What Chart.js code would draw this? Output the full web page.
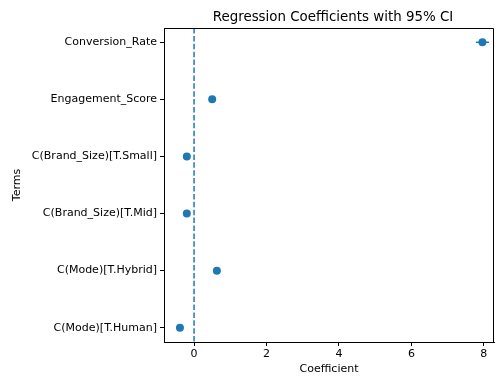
<!DOCTYPE html>
<html>
<head>
<meta charset="utf-8">
<script src="https://cdn.jsdelivr.net/npm/chart.js@4"></script>
<style>
  html, body { margin: 0; padding: 0; background: #fff; }
  #wrap { width: 495px; height: 376px; }
</style>
</head>
<body>
<div id="wrap"><canvas id="coefChart" width="495" height="376"></canvas></div>
<script>
// terms listed bottom to top, as matplotlib plots them
const terms = ['C(Mode)[T.Human]', 'C(Mode)[T.Hybrid]', 'C(Brand_Size)[T.Mid]',
               'C(Brand_Size)[T.Small]', 'Engagement_Score', 'Conversion_Rate'];
const coefs = [-0.39, 0.63, -0.2, -0.2, 0.5, 7.96];
const ciLow = [-0.45, 0.58, -0.25, -0.25, 0.46, 7.78];
const ciHigh = [-0.33, 0.68, -0.15, -0.15, 0.54, 8.14];
const xTicks = [0, 2, 4, 6, 8];

const BLUE = '#1f77b4';
const FONT = 'DejaVu Sans';

const points = coefs.map((c, i) => ({ x: c, y: i }));

// error bars, zero line, top/right spines and title
const extras = {
  id: 'extras',
  beforeDatasetsDraw(chart) {
    const { ctx, chartArea: a, scales: { x, y } } = chart;
    ctx.save();
    // dashed reference line at zero
    ctx.strokeStyle = BLUE;
    ctx.lineWidth = 1.5;
    ctx.setLineDash([5.5, 2.4]);
    ctx.beginPath();
    ctx.moveTo(x.getPixelForValue(0), a.top);
    ctx.lineTo(x.getPixelForValue(0), a.bottom);
    ctx.stroke();
    ctx.setLineDash([]);
    // CI bars
    ctx.lineWidth = 1.5;
    terms.forEach((t, i) => {
      const py = y.getPixelForValue(i);
      ctx.beginPath();
      ctx.moveTo(x.getPixelForValue(ciLow[i]), py);
      ctx.lineTo(x.getPixelForValue(ciHigh[i]), py);
      ctx.stroke();
    });
    ctx.restore();
  },
  afterDraw(chart) {
    const { ctx, chartArea: a } = chart;
    ctx.save();
    ctx.strokeStyle = '#000';
    ctx.lineWidth = 1;
    ctx.beginPath();
    ctx.moveTo(a.left, a.top + 0.5);
    ctx.lineTo(a.right - 0.5, a.top + 0.5);
    ctx.lineTo(a.right - 0.5, a.bottom);
    ctx.stroke();
    ctx.fillStyle = '#000';
    ctx.font = '13.4px "' + FONT + '"';
    ctx.textAlign = 'center';
    ctx.textBaseline = 'alphabetic';
    ctx.fillText('Regression Coefficients with 95% CI', (a.left + a.right) / 2 + 4, 21);
    ctx.restore();
  }
};

new Chart(document.getElementById('coefChart'), {
  type: 'scatter',
  data: {
    datasets: [{
      data: points,
      backgroundColor: BLUE,
      borderColor: BLUE,
      pointRadius: 4,
      pointHoverRadius: 4,
      borderWidth: 0
    }]
  },
  options: {
    responsive: false,
    animation: false,
    events: [],
    layout: { autoPadding: false, padding: { top: 28, right: 1, left: 0, bottom: 0 } },
    plugins: { legend: { display: false }, tooltip: { enabled: false } },
    scales: {
      x: {
        type: 'linear',
        min: -0.83,
        max: 8.28,
        afterBuildTicks: s => { s.ticks = xTicks.map(v => ({ value: v })); },
        afterFit: s => { s.height = 34; s.paddingLeft = 0; s.paddingRight = 0; },
        border: { display: true, color: '#000', width: 1 },
        grid: { display: true, drawOnChartArea: false, drawTicks: true, tickLength: 4, tickColor: '#000' },
        ticks: { color: '#000', padding: 2, font: { family: FONT, size: 11 }, maxRotation: 0 },
        title: { display: true, text: 'Coefficient', color: '#000', font: { family: FONT, size: 11 }, padding: { top: 0, bottom: 0 } }
      },
      y: {
        type: 'linear',
        min: -0.25,
        max: 5.25,
        afterBuildTicks: s => { s.ticks = terms.map((t, i) => ({ value: i })); },
        afterFit: s => { s.width = 164; s.paddingTop = 0; s.paddingBottom = 0; },
        border: { display: true, color: '#000', width: 1 },
        grid: { display: true, drawOnChartArea: false, drawTicks: true, tickLength: 4, tickColor: '#000' },
        ticks: { color: '#000', padding: 3, font: { family: FONT, size: 11 }, callback: v => terms[v] },
        title: { display: true, text: 'Terms', color: '#000', font: { family: FONT, size: 11 }, padding: { top: 11, bottom: 0 } }
      }
    }
  },
  plugins: [extras]
});
</script>
</body>
</html>
